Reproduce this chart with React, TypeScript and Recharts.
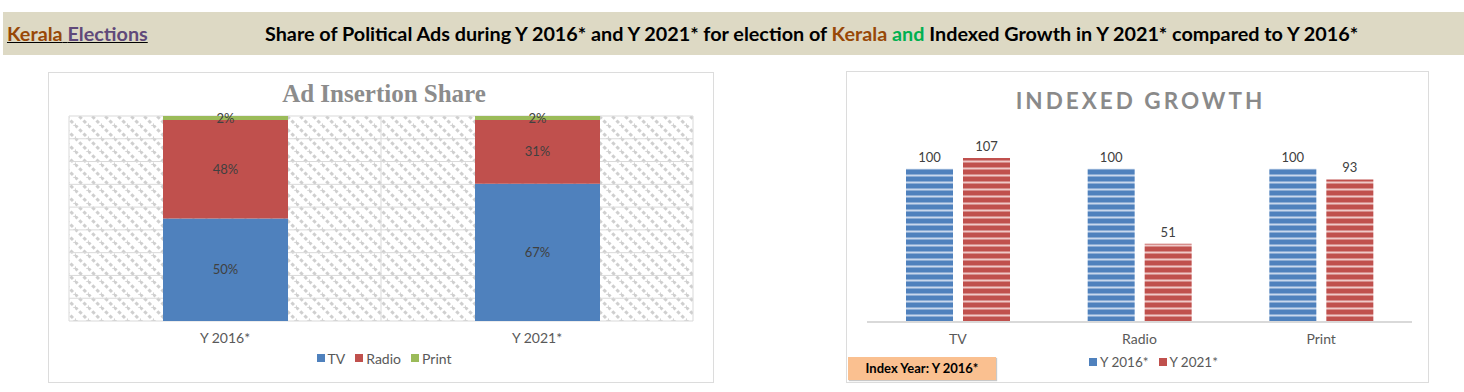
import { BarChart, Bar, XAxis, YAxis, CartesianGrid, LabelList } from 'recharts';

// left chart: ad insertion share (percent of total)
const shareCategories = ['Y 2016*', 'Y 2021*'];
const tvShare = [50, 67];
const radioShare = [48, 31];
const printShare = [2, 2];

// right chart: indexed growth (index year 2016 = 100)
const growthCategories = ['TV', 'Radio', 'Print'];
const growth2016 = [100, 100, 100];
const growth2021 = [107, 51, 93];

const BLUE = '#4f81bd';
const RED = '#c0504d';
const GREEN = '#9bbb59';
const FONT = 'Lato, "Noto Sans", sans-serif';

const shareData = shareCategories.map((name, i) => ({
  name,
  tv: tvShare[i],
  radio: radioShare[i],
  print: printShare[i],
}));

const growthData = growthCategories.map((name, i) => ({
  name,
  y2016: growth2016[i],
  y2021: growth2021[i],
}));

const shareSeries = [
  { key: 'tv', name: 'TV', color: BLUE },
  { key: 'radio', name: 'Radio', color: RED },
  { key: 'print', name: 'Print', color: GREEN },
];

const growthSeries = [
  { key: 'y2016', name: 'Y 2016*', color: BLUE, fill: 'url(#stripeBlue)' },
  { key: 'y2021', name: 'Y 2021*', color: RED, fill: 'url(#stripeRed)' },
];

function LegendRow({ items, style }: { items: { name: string; color: string }[]; style: any }) {
  return (
    <div
      style={{
        position: 'absolute',
        display: 'flex',
        justifyContent: 'center',
        alignItems: 'center',
        gap: 10,
        fontSize: 14,
        color: '#595959',
        ...style,
      }}
    >
      {items.map((it) => (
        <span key={it.name} style={{ display: 'flex', alignItems: 'center', gap: 3 }}>
          <span style={{ width: 8, height: 8, background: it.color, display: 'inline-block' }} />
          {it.name}
        </span>
      ))}
    </div>
  );
}

export default function App() {
  return (
    <div
      style={{
        position: 'absolute',
        left: 0,
        top: 0,
        width: 1464,
        height: 392,
        background: '#fff',
        fontFamily: FONT,
        overflow: 'hidden',
      }}
    >
      {/* header band */}
      <div
        style={{
          position: 'absolute',
          left: 3,
          top: 12,
          width: 1461,
          height: 43,
          background: '#ddd9c4',
          fontWeight: 700,
          fontSize: 19.8,
          lineHeight: '43px',
        }}
      >
        <span style={{ position: 'absolute', left: 4, textDecoration: 'underline' }}>
          <span style={{ color: '#984807' }}>Kerala</span>
          <span style={{ color: '#000' }}> </span>
          <span style={{ color: '#60497a' }}>Elections</span>
        </span>
        <span style={{ position: 'absolute', left: 262, color: '#000', whiteSpace: 'nowrap' }}>
          Share of Political Ads during Y 2016* and Y 2021* for election of{' '}
          <span style={{ color: '#984807' }}>Kerala</span>{' '}
          <span style={{ color: '#00b050' }}>and</span> Indexed Growth in Y 2021* compared to Y 2016*
        </span>
      </div>

      {/* left panel */}
      <div
        style={{
          position: 'absolute',
          left: 48,
          top: 72,
          width: 664,
          height: 309,
          border: '1px solid #dcdcdc',
        }}
      />
      <div
        style={{
          position: 'absolute',
          left: 49,
          top: 80,
          width: 670,
          textAlign: 'center',
          fontFamily: '"Liberation Serif", serif',
          fontWeight: 700,
          fontSize: 25,
          color: '#8c8c8c',
        }}
      >
        Ad Insertion Share
      </div>
      <div style={{ position: 'absolute', left: 49, top: 73 }}>
        <BarChart
          width={664}
          height={309}
          data={shareData}
          margin={{ top: 43, right: 20, bottom: 0, left: 20 }}
          barSize={125}
        >
          <defs>
            <pattern id="hatch" width="13" height="13" patternUnits="userSpaceOnUse">
              <rect width="13" height="13" fill="#ffffff" />
              <path
                d="M0,0 L13,13 M-6.5,6.5 L6.5,19.5 M6.5,-6.5 L19.5,6.5"
                stroke="#cfcfcf"
                strokeWidth="3"
                strokeDasharray="3.5 2.5"
              />
            </pattern>
          </defs>
          <CartesianGrid
            fill="url(#hatch)"
            fillOpacity={1}
            stroke="#d9d9d9"
            horizontalCoordinatesGenerator={({ offset }: any) =>
              Array.from({ length: 10 }, (_, i) => offset.top + (offset.height * i) / 9)
            }
            verticalCoordinatesGenerator={({ offset }: any) => [
              offset.left,
              offset.left + offset.width / 2,
              offset.left + offset.width,
            ]}
          />
          <XAxis
            dataKey="name"
            axisLine={false}
            tickLine={false}
            height={61}
            tickMargin={6}
            tick={{ fill: '#595959', fontSize: 14, fontFamily: FONT }}
          />
          <YAxis hide domain={[0, 100]} />
          {shareSeries.map((s) => (
            <Bar key={s.key} dataKey={s.key} stackId="a" fill={s.color} isAnimationActive={false}>
              <LabelList
                dataKey={s.key}
                position="center"
                formatter={(v: any) => `${v}%`}
                style={{ fill: '#404040', fontSize: 13, fontFamily: FONT }}
              />
            </Bar>
          ))}
        </BarChart>
      </div>
      <LegendRow items={shareSeries} style={{ left: 49, width: 670, top: 350, height: 16 }} />

      {/* right panel */}
      <div
        style={{
          position: 'absolute',
          left: 846,
          top: 71,
          width: 581,
          height: 310,
          border: '1px solid #dcdcdc',
        }}
      />
      <div
        style={{
          position: 'absolute',
          left: 847,
          top: 87,
          width: 587,
          textAlign: 'center',
          fontWeight: 700,
          fontSize: 22.5,
          letterSpacing: 3,
          color: '#8a8a8a',
        }}
      >
        INDEXED GROWTH
      </div>
      <div style={{ position: 'absolute', left: 847, top: 72 }}>
        <BarChart
          width={581}
          height={310}
          data={growthData}
          margin={{ top: 66, right: 16, bottom: 0, left: 20 }}
          barSize={47}
          barGap={10}
        >
          <defs>
            <pattern id="stripeBlue" width="8" height="7" patternUnits="userSpaceOnUse">
              <rect width="8" height="7" fill={BLUE} />
              <rect y="4.5" width="8" height="2" fill="#c9d7ec" />
            </pattern>
            <pattern id="stripeRed" width="8" height="7" patternUnits="userSpaceOnUse">
              <rect width="8" height="7" fill={RED} />
              <rect y="4.5" width="8" height="2" fill="#efc9c8" />
            </pattern>
          </defs>
          <XAxis
            dataKey="name"
            axisLine={{ stroke: '#d9d9d9', strokeWidth: 2 }}
            tickLine={false}
            height={60}
            tickMargin={6}
            tick={{ fill: '#595959', fontSize: 14, fontFamily: FONT }}
          />
          <YAxis hide domain={[0, 120]} />
          {growthSeries.map((s) => (
            <Bar key={s.key} dataKey={s.key} name={s.name} fill={s.fill} isAnimationActive={false}>
              <LabelList
                dataKey={s.key}
                position="top"
                offset={7}
                style={{ fill: '#404040', fontSize: 13, fontFamily: FONT }}
              />
            </Bar>
          ))}
        </BarChart>
      </div>
      <LegendRow
        items={growthSeries}
        style={{ left: 863, width: 581, top: 354, height: 16, fontSize: 13.5 }}
      />
      <div
        style={{
          position: 'absolute',
          left: 848,
          top: 357,
          width: 148,
          height: 23,
          background: '#fac090',
          boxShadow: '1px 1px 1px #c9c9c9',
          fontWeight: 700,
          fontSize: 13,
          lineHeight: '23px',
          textAlign: 'center',
          color: '#000',
        }}
      >
        Index Year: Y 2016*
      </div>
    </div>
  );
}
